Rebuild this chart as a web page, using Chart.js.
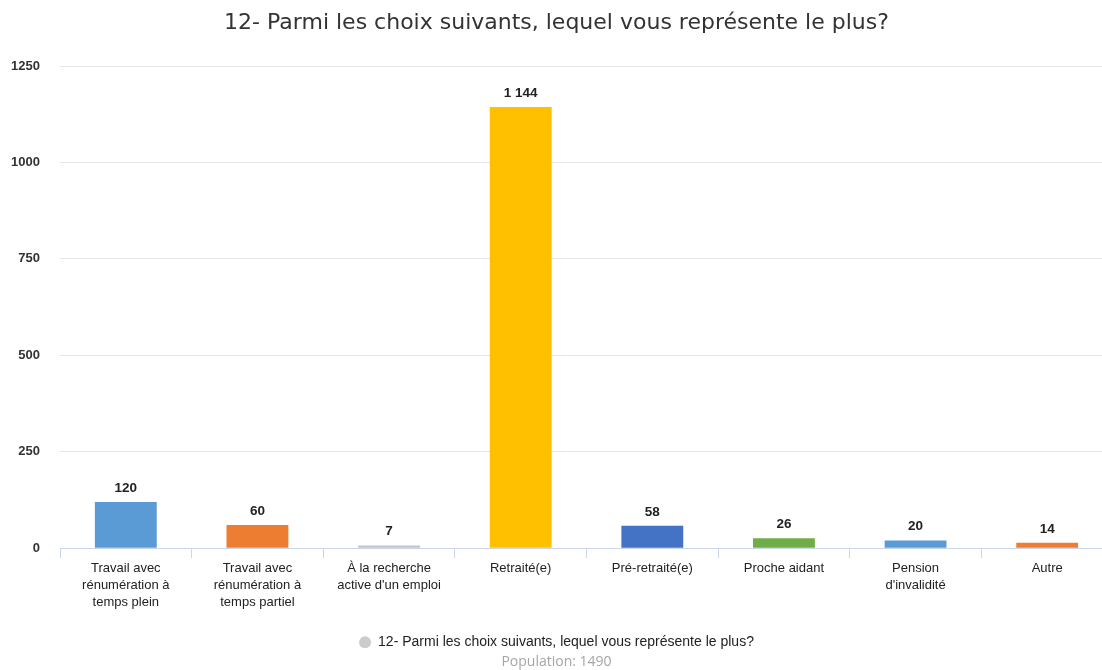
<!DOCTYPE html>
<html>
<head>
<meta charset="utf-8">
<script src="https://cdn.jsdelivr.net/npm/chart.js@4.4.1/dist/chart.umd.min.js"></script>
<style>
  html, body { margin: 0; padding: 0; background: #ffffff; overflow: hidden; }
  #wrap { position: relative; width: 1115px; height: 670px; }
</style>
</head>
<body>
<div id="wrap"><canvas id="c"></canvas></div>
<script>
const titleText = "12- Parmi les choix suivants, lequel vous représente le plus?";
const seriesName = "12- Parmi les choix suivants, lequel vous représente le plus?";
const populationText = "Population: 1490";
const categories = [
  ["Travail avec", "rénumération à", "temps plein"],
  ["Travail avec", "rénumération à", "temps partiel"],
  ["À la recherche", "active d'un emploi"],
  "Retraité(e)",
  "Pré-retraité(e)",
  "Proche aidant",
  ["Pension", "d'invalidité"],
  "Autre"
];
const values = [120, 60, 7, 1144, 58, 26, 20, 14];
const barColors = ["#5b9bd5", "#ed7d31", "#bfc5cc", "#ffc000", "#4472c4", "#70ad47", "#5b9bd5", "#ed7d31"];
const yTicks = [0, 250, 500, 750, 1000, 1250];

const fmt = v => String(v).replace(/\B(?=(\d{3})+(?!\d))/g, " ");

const valueLabels = {
  id: "valueLabels",
  afterDatasetsDraw(chart) {
    const ctx = chart.ctx;
    const meta = chart.getDatasetMeta(0);
    ctx.save();
    ctx.font = "bold 13.5px 'Liberation Sans', Arial, sans-serif";
    ctx.fillStyle = "#222222";
    ctx.textAlign = "center";
    ctx.textBaseline = "bottom";
    meta.data.forEach((bar, i) => {
      ctx.fillText(fmt(values[i]), bar.x, bar.y - 7);
    });
    ctx.restore();
  }
};

new Chart(document.getElementById("c"), {
  type: "bar",
  data: {
    labels: categories,
    datasets: [{
      label: seriesName,
      data: values,
      backgroundColor: barColors,
      borderWidth: 0,
      barPercentage: 0.47,
      categoryPercentage: 1.0
    }]
  },
  options: {
    responsive: true,
    maintainAspectRatio: false,
    animation: false,
    layout: { padding: { left: 0, right: 2, top: 0, bottom: 0 } },
    plugins: {
      title: {
        display: true,
        text: titleText,
        color: "#333333",
        font: { family: "'DejaVu Sans', sans-serif", size: 22, weight: "normal" },
        padding: { top: 10, bottom: 29.6 }
      },
      subtitle: {
        display: true,
        position: "bottom",
        text: populationText,
        color: "#a6a6a6",
        font: { family: "'Open Sans', sans-serif", size: 14 },
        padding: { top: -6, bottom: 0 }
      },
      legend: {
        display: true,
        position: "bottom",
        labels: {
          usePointStyle: true,
          pointStyle: "circle",
          boxWidth: 12,
          boxHeight: 8.5,
          pointStyleWidth: 12,
          padding: 5,
          color: "#222222",
          font: { family: "'Liberation Sans', Arial, sans-serif", size: 14 },
          generateLabels(chart) {
            const items = Chart.defaults.plugins.legend.labels.generateLabels(chart);
            items.forEach(it => { it.fillStyle = "#cccccc"; it.strokeStyle = "#cccccc"; it.lineWidth = 0; });
            return items;
          }
        },
        onClick: () => {}
      },
      tooltip: { enabled: false }
    },
    scales: {
      x: {
        grid: {
          display: true,
          drawOnChartArea: false,
          drawTicks: true,
          tickLength: 10,
          color: "#ccd6eb",
          offset: true
        },
        border: { display: true, color: "#ccd6eb", width: 1 },
        ticks: {
          color: "#222222",
          padding: 2,
          maxRotation: 0,
          autoSkip: false,
          font: { family: "'Liberation Sans', Arial, sans-serif", size: 13, lineHeight: 1.3 }
        },
        afterFit(scale) { scale.height = 82; }
      },
      y: {
        min: 0,
        max: 1250,
        afterBuildTicks(scale) { scale.ticks = yTicks.map(v => ({ value: v })); },
        grid: { color: "#e6e6e6", drawTicks: false, lineWidth: 1 },
        border: { display: false },
        ticks: {
          color: "#333333",
          padding: 20,
          font: { family: "'Liberation Sans', Arial, sans-serif", size: 13, weight: "bold" },
          callback: v => String(v)
        },
        afterFit(scale) { scale.width = 60; }
      }
    }
  },
  plugins: [valueLabels]
});
</script>
</body>
</html>
